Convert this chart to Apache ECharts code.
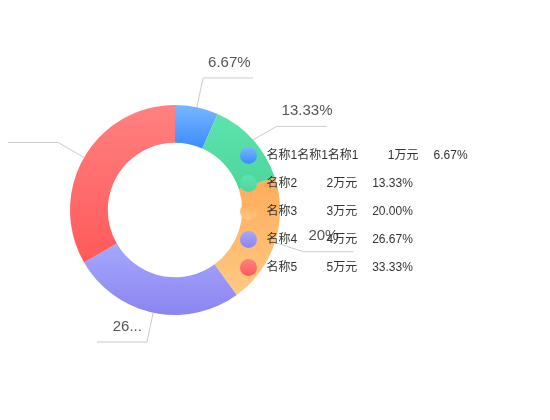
<!DOCTYPE html>
<html>
<head>
<meta charset="utf-8">
<style>html,body{margin:0;padding:0;background:#fff;}#main{width:550px;height:420px;}</style>
<script src="https://cdn.jsdelivr.net/npm/echarts@6/dist/echarts.min.js"></script>
</head>
<body>
<div id="main"></div>
<script>
var names = ['名称1名称1名称1', '名称2', '名称3', '名称4', '名称5'];
var values = [1, 2, 3, 4, 5];
var unit = '万元';
var gradTop = ['#79b6ff', '#5ee3ad', '#ffac58', '#a4a8fd', '#ff8181'];
var gradBottom = ['#3b8bfe', '#4cd69c', '#ffc985', '#8c84f0', '#ff5959'];

var total = values.reduce(function (a, b) { return a + b; }, 0);
var FONT = '"Helvetica Neue", Helvetica, "Liberation Sans", Arial, "Noto Sans CJK SC", sans-serif';

// per-slice label overrides (the reference squeezes the left-side labels)
var labelOverrides = [
  null,
  null,
  null,
  { width: 32, overflow: 'truncate' },
  { formatter: '\n\n' }
];

var chart = echarts.init(document.getElementById('main'));
var data = names.map(function (n, i) {
  var item = {
    name: n,
    value: values[i],
    itemStyle: {
      color: new echarts.graphic.LinearGradient(0, 0, 0, 1, [
        { offset: 0, color: gradTop[i] },
        { offset: 1, color: gradBottom[i] }
      ])
    }
  };
  if (labelOverrides[i]) item.label = labelOverrides[i];
  return item;
});

chart.setOption({
  backgroundColor: '#fff',
  legend: {
    orient: 'vertical',
    left: 235,
    top: 142,
    icon: 'circle',
    itemWidth: 26,
    itemHeight: 17,
    itemGap: 11,
    textStyle: {
      fontFamily: FONT,
      fontSize: 12,
      color: '#333',
      rich: {
        n: { fontSize: 12, color: '#333', fontFamily: FONT },
        v: { fontSize: 12, color: '#333', fontFamily: FONT, width: 60, align: 'right' },
        p: { fontSize: 12, color: '#333', fontFamily: FONT, align: 'right', padding: [0, 0, 0, 15] }
      }
    },
    formatter: function (name) {
      var i = names.indexOf(name);
      var pct = (values[i] / total * 100).toFixed(2) + '%';
      return '{n|' + name + '}{v|' + values[i] + unit + '}{p|' + pct + '}';
    },
    data: names
  },
  series: [{
    type: 'pie',
    center: [175, 210],
    radius: ['32%', '50%'],
    startAngle: 90,
    clockwise: true,
    data: data,
    label: {
      show: true,
      formatter: '{d}%\n\n',
      fontSize: 15,
      lineHeight: 15.5,
      fontFamily: FONT,
      color: '#555',
      padding: [0, -50]
    },
    labelLine: {
      show: true,
      length: 30,
      length2: 50,
      lineStyle: { color: '#ccc', width: 1 }
    },
    emphasis: { scale: false }
  }]
});
</script>
</body>
</html>
